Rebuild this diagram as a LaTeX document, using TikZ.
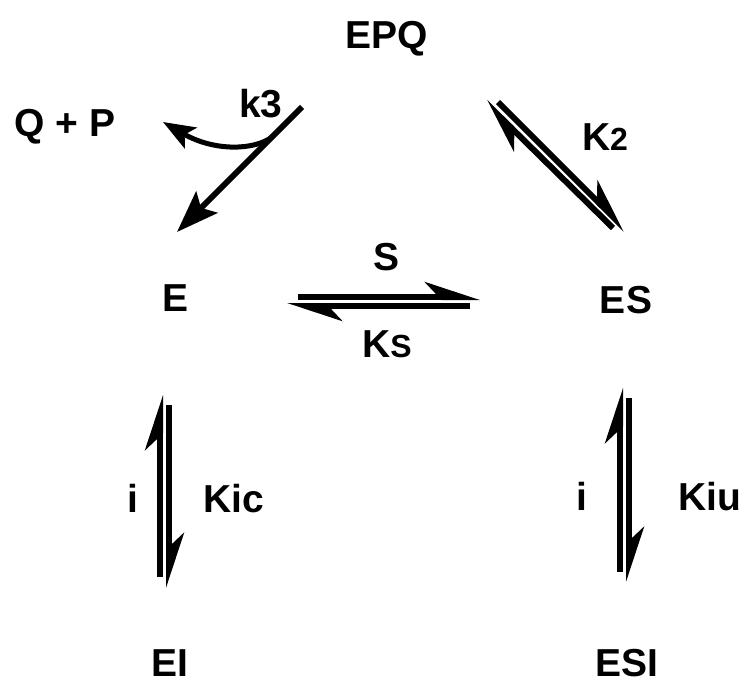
\documentclass[tikz,border=0pt]{standalone}
\usepackage{fontspec}
\setmainfont{Liberation Sans}
\usetikzlibrary{arrows.meta}
\begin{document}
\begin{tikzpicture}[x=1pt,y=-1pt,
  lbl/.style={font=\fontsize{39}{39}\bfseries\selectfont, inner sep=0pt, anchor=base},
  rxn/.style={line width=6pt},
  harp/.style={rxn,-{Stealth[harpoon,length=46pt,width=30pt,inset=14pt]}},
  fullhead/.style={line width=6pt,-{Stealth[length=42pt,width=30pt,inset=8pt]}},
  curvehead/.style={line width=5pt,-{Stealth[length=32pt,width=24pt,inset=7pt]}}
]
\useasboundingbox (0,0) rectangle (747,683);
% labels
\node[lbl] (EPQ) at (387,48) {EPQ};
\node[lbl] (QP) at (65,136) {Q + P};
\node[lbl] (k3) at (261,117) {k3};
\node[lbl] (E) at (176,311) {E};
\node[lbl] (ES) at (626,313) {ES};
\node[lbl] (S) at (387,270) {S};
\node[lbl] (Ks) at (387,357) {K{\fontsize{32}{32}\selectfont S}};
\node[lbl] (K2) at (605,150) {K{\fontsize{32}{32}\selectfont 2}};
\node[lbl] (i1) at (133,512) {i};
\node[lbl] (Kic) at (234,512) {Kic};
\node[lbl] (i2) at (582,510) {i};
\node[lbl] (Kiu) at (710,510) {Kiu};
\node[lbl] (EI) at (170,676) {EI};
\node[lbl] (ESI) at (627,676) {ESI};
% coordinates
\coordinate (h1s) at (298,297); \coordinate (h1e) at (480,297);
\coordinate (h2s) at (470,306); \coordinate (h2e) at (287,306);
\coordinate (d1s) at (613,228); \coordinate (d1e) at (485,102);
\coordinate (d2s) at (498,102); \coordinate (d2e) at (626,230);
\coordinate (v1s) at (160,577); \coordinate (v1e) at (160,395);
\coordinate (v2s) at (169,405); \coordinate (v2e) at (169,588);
\coordinate (v3s) at (620,572); \coordinate (v3e) at (620,388);
\coordinate (v4s) at (629,398); \coordinate (v4e) at (629,582);
\coordinate (k3s) at (302,107); \coordinate (k3e) at (177,232);
\coordinate (cs) at (272,137); \coordinate (ce) at (163,122);
% arrows
\draw[harp] (h1s) -- (h1e);
\draw[harp] (h2s) -- (h2e);
\draw[harp] (d1s) -- (d1e);
\draw[harp] (d2s) -- (d2e);
\draw[harp] (v1s) -- (v1e);
\draw[harp] (v2s) -- (v2e);
\draw[harp] (v3s) -- (v3e);
\draw[harp] (v4s) -- (v4e);
\draw[fullhead] (k3s) -- (k3e);
\draw[curvehead] (cs) .. controls (255,150) and (215,152) .. (ce);
\end{tikzpicture}
\end{document}
